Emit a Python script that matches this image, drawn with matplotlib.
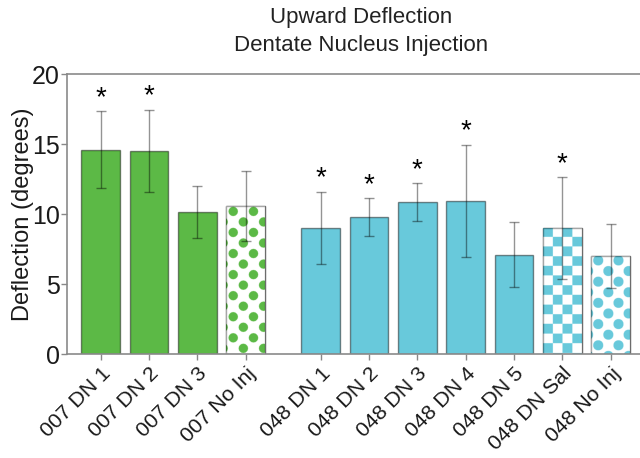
import numpy as np
import matplotlib
matplotlib.use("Agg")
import matplotlib.pyplot as plt

plt.rcParams['font.family'] = ['Liberation Sans', 'DejaVu Sans']

# values
labels = ['007 DN 1', '007 DN 2', '007 DN 3', '007 No Inj',
          '048 DN 1', '048 DN 2', '048 DN 3', '048 DN 4', '048 DN 5', '048 DN Sal', '048 No Inj']
means = [14.6, 14.5, 10.15, 10.55, 9.0, 9.8, 10.85, 10.95, 7.1, 9.0, 7.0]
sems = [2.75, 2.95, 1.87, 2.5, 2.6, 1.35, 1.35, 4.0, 2.33, 3.65, 2.31]
group = [0, 0, 0, 0, 1, 1, 1, 1, 1, 1, 1]
fill = ['solid', 'solid', 'solid', 'dots', 'solid', 'solid', 'solid', 'solid', 'solid', 'checks', 'dots']
signif = [1, 1, 0, 0, 1, 1, 1, 1, 0, 1, 0]

group_colors = ['#5cb946', '#68c9db']
DPI = 100

# x positions: one gap between the two animals
xpos = np.array([i + 0.55 * g for i, g in enumerate(group)])

fig = plt.figure(figsize=(6.4, 4.58), dpi=DPI)
ax = fig.add_axes([67 / 640, 1 - 354 / 458, 588 / 640, 280 / 458])
ax.set_xlim(-0.70, 11.47)
ax.set_ylim(0, 20)

bars = ax.bar(xpos, means, width=0.8, linewidth=1.0,
              color=[group_colors[g] if f == 'solid' else 'white' for g, f in zip(group, fill)],
              edgecolor=[(0, 0, 0, 0.45) if f == 'solid' else (0, 0, 0, 0.35) for f in fill],
              zorder=2)

fig.canvas.draw()


def pattern_image(kind, w, h, rgb, ss=4):
    # build a pixel pattern (supersampled) for a bar of w x h pixels
    W, H = int(w * ss), int(h * ss)
    yy, xx = np.mgrid[0:H, 0:W] / ss
    if kind == 'checks':
        s = 9.6
        on = ((np.floor(xx / s) + np.floor(yy / s)) % 2) == 0
    else:
        px, py = 20.0, 10.5
        r = 4.6 if rgb[1] < 190 else 5.0
        row = np.floor(yy / py)
        cy = (row + 0.5) * py
        off = np.where(row % 2 == 0, 7.0, -3.0)
        cx = np.round((xx - off) / px) * px + off
        on = (xx - cx) ** 2 + (yy - cy) ** 2 <= r ** 2
    img = np.ones((H, W, 3))
    img[on] = np.array(rgb) / 255.0
    return img


for b, f, g in zip(bars, fill, group):
    if f == 'solid':
        continue
    x0, y0 = b.get_x(), b.get_y()
    x1, y1 = x0 + b.get_width(), y0 + b.get_height()
    (p0x, p0y), (p1x, p1y) = ax.transData.transform([(x0, y0), (x1, y1)])
    c = matplotlib.colors.to_rgb(group_colors[g])
    img = pattern_image(f, p1x - p0x, p1y - p0y, [v * 255 for v in c])
    im = ax.imshow(img, extent=(x0, x1, y0, y1), origin='upper', aspect='auto',
                   interpolation='antialiased', zorder=2.1)
    im.set_clip_path(b)
    ax.bar(b.get_x() + b.get_width() / 2, b.get_height(), width=b.get_width(),
           color='none', edgecolor=(0, 0, 0, 0.35), linewidth=1.0, zorder=2.2)

ax.errorbar(xpos, means, yerr=sems, fmt='none', ecolor=(0, 0, 0, 0.42),
            elinewidth=1.0, capsize=3.6, capthick=1.0, zorder=3)

for x, m, s, sig in zip(xpos, means, sems, signif):
    if sig:
        ax.annotate('*', (x, m + s), xytext=(0, 0), textcoords='offset points',
                    ha='center', va='bottom', fontsize=20, color='black')

ax.set_aspect('auto')
ax.set_xlim(-0.70, 11.47)
ax.set_ylim(0, 20)
ax.set_xticks(xpos)
ax.set_xticklabels(labels, rotation=45, ha='right', rotation_mode='anchor',
                   fontsize=15.3, color='#1a1a1a')
ax.set_yticks([0, 5, 10, 15, 20])
ax.tick_params(axis='y', labelsize=18, labelcolor='#1a1a1a', color='#888888',
               length=4, width=1, pad=1)
ax.tick_params(axis='x', color='#888888', length=4, width=1, pad=3)
ax.set_ylabel('Deflection (degrees)', fontsize=17, color='#1a1a1a', labelpad=-1)

for side in ['left', 'bottom', 'top', 'right']:
    ax.spines[side].set_color('#8a8a8a')
    ax.spines[side].set_linewidth(1.2)

fig.text(361 / 640, 1 - 18 / 458, 'Upward Deflection', ha='center', va='center',
         fontsize=16, color='#222222')
fig.text(361 / 640, 1 - 45 / 458, 'Dentate Nucleus Injection', ha='center', va='center',
         fontsize=16, color='#222222')

fig.savefig('out.png', dpi=DPI)
